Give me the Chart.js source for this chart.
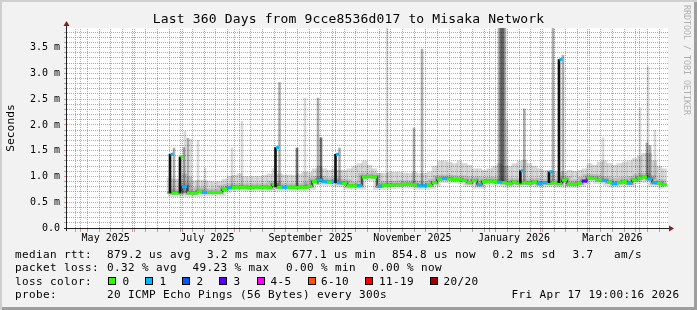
<!DOCTYPE html>
<html>
<head>
<meta charset="utf-8">
<script src="https://cdn.jsdelivr.net/npm/chart.js@4.4.1/dist/chart.umd.min.js"></script>
<style>
  body { margin: 0; background: #fff; }
  #graph {
    position: relative; width: 697px; height: 310px; background: #f2f2f2;
    box-shadow: inset 2px 2px 0 #cfcfcf, inset -3px -3px 0 #9e9e9e;
    font-family: "DejaVu Sans Mono", monospace; color: #000;
  }
  #graph canvas { position: absolute; left: 0; top: 0; }
  #title {
    position: absolute; left: 0; top: 11px; width: 697px; text-align: center;
    font-size: 13px; letter-spacing: 0.16px; line-height: 16px; white-space: pre;
  }
  #mark {
    position: absolute; left: 682px; top: 5px; writing-mode: vertical-rl;
    font-size: 8.3px; line-height: 9px; color: #b0b0b0; white-space: pre;
  }
  .t { position: absolute; white-space: pre; font-size: 11px; letter-spacing: 0.38px; line-height: 13px; }
  .box { position: absolute; top: 277px; width: 6px; height: 6px; border: 1px solid #000; }
</style>
</head>
<body>
<div id="graph">
  <canvas id="chart" width="697" height="310"></canvas>
  <div id="title">Last 360 Days from 9cce8536d017 to Misaka Network</div>
  <div id="mark">RRDTOOL / TOBI OETIKER</div>
  <div id="legend"></div>
</div>
<script>
// time axis: days since Apr 22 2025 19:00 (graph start), 360 days shown
const monthDays = [8.21, 39.21, 69.21, 100.21, 131.21, 161.21, 192.21, 222.21, 253.21, 284.21, 312.21, 343.21];
const weekDays = [5.21, 12.21, 19.21, 26.21, 33.21, 40.21, 47.21, 54.21, 61.21, 68.21, 75.21, 82.21,
  89.21, 96.21, 103.21, 110.21, 117.21, 124.21, 131.21, 138.21, 145.21, 152.21, 159.21, 166.21,
  173.21, 180.21, 187.21, 194.21, 201.21, 208.21, 215.21, 222.21, 229.21, 236.21, 243.21, 250.21,
  257.21, 264.21, 271.21, 278.21, 285.21, 292.21, 299.21, 306.21, 313.21, 320.21, 327.21, 334.21,
  341.21, 348.21, 355.21];
const xLabelDays = [23.2, 84.2, 146.2, 207.2, 268.2, 327.2];
const xLabels = ['May 2025', 'July 2025', 'September 2025', 'November 2025', 'January 2026', 'March 2026'];

const yTickValues = [0, 0.5, 1, 1.5, 2, 2.5, 3, 3.5];
const yTickLabels = ['0.0', '0.5 m', '1.0 m', '1.5 m', '2.0 m', '2.5 m', '3.0 m', '3.5 m'];

// median rtt (ms) in 3-day bins, first bin starts at day 60
const median = [
  0.69, 0.68, 0.68, 0.80, 0.68, 0.68, 0.71, 0.69, 0.69, 0.69,
  0.69, 0.75, 0.78, 0.79, 0.79, 0.79, 0.78, 0.79, 0.79, 0.79,
  0.78, 0.84, 0.79, 0.79, 0.79, 0.79, 0.79, 0.79, 0.81, 0.90,
  0.93, 0.90, 0.89, 0.90, 0.88, 0.87, 0.82, 0.82, 0.82, 0.99,
  1.00, 0.99, 0.81, 0.83, 0.83, 0.84, 0.84, 0.85, 0.85, 0.84,
  0.82, 0.82, 0.83, 0.88, 0.95, 0.96, 0.95, 0.94, 0.94, 0.92,
  0.88, 0.92, 0.84, 0.90, 0.91, 0.90, 0.89, 0.88, 0.86, 0.89,
  0.87, 0.88, 0.87, 0.89, 0.86, 0.88, 0.87, 0.88, 0.86, 0.93,
  0.85, 0.85, 0.87, 0.91, 0.97, 0.96, 0.93, 0.92, 0.89, 0.86,
  0.88, 0.90, 0.87, 0.93, 0.97, 0.99, 0.95, 0.88, 0.87, 0.84
];
// upper edge of the light smoke per bin (ms)
const smokeHi = [
  0.97, 0.95, 0.95, 1.05, 0.99, 0.92, 0.93, 0.92, 0.91, 0.90,
  0.90, 0.95, 1.00, 1.02, 1.05, 1.00, 1.00, 1.00, 1.00, 1.02,
  1.05, 1.15, 1.05, 1.03, 1.03, 1.02, 1.05, 1.08, 1.08, 1.15,
  1.20, 1.15, 1.12, 1.15, 1.12, 1.12, 1.15, 1.20, 1.25, 1.30,
  1.22, 1.15, 1.06, 1.06, 1.08, 1.08, 1.08, 1.07, 1.06, 1.08,
  1.06, 1.06, 1.08, 1.20, 1.30, 1.30, 1.28, 1.25, 1.30, 1.25,
  1.22, 1.15, 1.15, 1.12, 1.15, 1.20, 1.25, 1.20, 1.20, 1.25,
  1.30, 1.32, 1.25, 1.20, 1.15, 1.12, 1.12, 1.10, 1.08, 1.10,
  1.12, 1.10, 1.12, 1.15, 1.25, 1.22, 1.28, 1.30, 1.25, 1.22,
  1.25, 1.28, 1.30, 1.35, 1.40, 1.45, 1.45, 1.30, 1.20, 1.15
];
// loss class per bin (index into lossColors)
const lossClass = [
  0, 0, 0, 1, 0, 0, 0, 1, 0, 0,
  0, 0, 1, 0, 0, 0, 0, 0, 0, 0,
  0, 0, 0, 1, 0, 0, 0, 0, 0, 0,
  1, 1, 0, 1, 1, 0, 0, 0, 1, 0,
  0, 0, 1, 0, 0, 0, 0, 0, 0, 0,
  1, 1, 0, 0, 0, 1, 0, 0, 0, 0,
  0, 0, 1, 0, 0, 0, 1, 0, 0, 0,
  0, 0, 0, 0, 1, 1, 0, 0, 0, 0,
  0, 0, 0, 3, 0, 0, 0, 1, 0, 1,
  0, 0, 1, 0, 0, 0, 1, 1, 0, 0
];

// short smoke spikes (single samples)
const spikeDays = [63.0, 69.0, 69.6, 71.4, 73.2, 77.4, 81.6, 97.8, 103.8, 126.3, 136.8, 141.6, 149.4, 151.2, 162.3,
  190.8, 207.0, 211.8, 258.0, 259.2, 260.4, 261.6, 262.8, 273.2, 290.4, 296.4, 320.4, 342.6, 346.8, 347.4, 348.6, 351.6];
const spikeBase = [0.68, 0.68, 0.68, 0.68, 0.68, 0.68, 0.69, 0.78, 0.79, 0.80, 0.79, 0.79, 0.85, 0.90, 0.88,
  0.82, 0.85, 0.84, 0.88, 0.88, 0.88, 0.88, 0.88, 0.87, 0.88, 0.88, 0.93, 0.90, 0.97, 0.97, 0.97, 0.95];
const spikeTop = [1.55, 1.56, 1.88, 1.74, 1.72, 1.70, 1.16, 1.55, 2.07, 2.82, 1.55, 2.52, 2.52, 1.75, 1.55,
  3.95, 1.94, 3.47, 3.95, 3.95, 3.95, 3.95, 2.10, 2.31, 3.95, 3.35, 1.75, 2.33, 1.65, 3.13, 1.60, 1.90];
const spikeShade = [1, 1, 0, 1, 0, 0, 0, 0, 0, 1, 2, 0, 1, 2, 1,
  0, 1, 1, 1, 2, 2, 1, 0, 1, 1, 1, 0, 0, 1, 0, 1, 0];

// median spikes
const medSpikeDays = [63.0, 69.0, 126.3, 162.3, 273.2, 290.4, 296.4];
const medSpikeBase = [0.68, 0.68, 0.80, 0.88, 0.87, 0.88, 0.88];
const medSpikeTop = [1.43, 1.38, 1.56, 1.43, 1.11, 1.09, 3.27];
const medSpikeLoss = [1, 0, 1, 1, 1, 1, 1];

const lossColors = ['#26ff00', '#00b8ff', '#0059ff', '#5e00ff', '#ff00ff', '#ff5500', '#ff0000', '#a10000'];
const lossLabels = ['0', '1', '2', '3', '4-5', '6-10', '11-19', '20/20'];
const shadeColors = ['rgba(0,0,0,0.15)', 'rgba(0,0,0,0.32)', 'rgba(0,0,0,0.55)'];

const FONT = 'DejaVu Sans Mono';
// rrdtool default grid / major grid colours
const GRID = 'rgba(143,143,143,0.75)';
const MGRID = 'rgba(222,79,79,0.6)';

// ---- legend text under the graph ----
const legend = document.querySelector('#legend');
function addText(txt, x, y) {
  const el = document.createElement('div');
  el.className = 't';
  el.style.left = x + 'px';
  el.style.top = y + 'px';
  el.textContent = txt;
  legend.appendChild(el);
}
addText('median rtt:', 15, 248);
addText('879.2 us avg', 107, 248);
addText('3.2 ms max', 207, 248);
addText('677.1 us min', 292, 248);
addText('854.8 us now', 392, 248);
addText('0.2 ms sd', 492.5, 248);
addText('3.7', 572.5, 248);
addText('am/s', 614, 248);
addText('packet loss:', 15, 261.4);
addText('0.32 % avg', 107, 261.4);
addText('49.23 % max', 192.5, 261.4);
addText('0.00 % min', 286, 261.4);
addText('0.00 % now', 372, 261.4);
addText('loss color:', 15, 274.7);
const boxX = [108, 145.3, 182.3, 219.3, 256.5, 307.5, 365.3, 430.2];
const boxLabelX = [122.5, 159.5, 196.5, 233.5, 270.5, 321, 379, 443.5];
lossLabels.forEach((lbl, i) => {
  const b = document.createElement('div');
  b.className = 'box';
  b.style.left = boxX[i] + 'px';
  b.style.background = lossColors[i];
  legend.appendChild(b);
  addText(lbl, boxLabelX[i], 274.7);
});
addText('probe:', 15, 288);
addText('20 ICMP Echo Pings (56 Bytes) every 300s', 107, 288);
addText('Fri Apr 17 19:00:16 2026', 511.5, 288);

// ---- chart ----
const binDays = median.map((_, i) => 61.5 + 3 * i);
const medianPts = binDays.map((d, i) => ({ x: d, y: median[i] }));

const yGrid = [];
for (let i = 0; i <= 38; i++) yGrid.push(i / 10);
const xGrid = weekDays.concat(monthDays, xLabelDays).sort((a, b) => a - b);

const canvasBack = {
  id: 'canvasBack',
  beforeDraw(chart) {
    const { ctx, chartArea: a } = chart;
    ctx.save();
    ctx.fillStyle = '#fff';
    ctx.fillRect(a.left, a.top, a.right - a.left + 1, a.bottom - a.top);
    ctx.restore();
  }
};

// rrdtool style dotted grid (1 on / 1 off) + small ticks outside the axes
const dotGrid = {
  id: 'dotGrid',
  beforeDatasetsDraw(chart) {
    const { ctx, chartArea: a } = chart;
    const x = chart.scales.x, y = chart.scales.y;
    ctx.save();
    const hLine = (v, color) => {
      const py = Math.floor(y.getPixelForValue(v));
      ctx.fillStyle = color;
      for (let px = a.left; px < a.right + 1; px += 2) ctx.fillRect(px, py, 1, 1);
      ctx.fillRect(a.left - 3, py, 3, 1);
    };
    const vLine = (d, color) => {
      const px = Math.floor(x.getPixelForValue(d));
      ctx.fillStyle = color;
      for (let py = a.bottom - 1; py >= a.top; py -= 2) ctx.fillRect(px, py, 1, 1);
      ctx.fillRect(px, a.bottom + 1, 1, 3);
    };
    yGrid.filter(v => !yTickValues.includes(v)).forEach(v => hLine(v, GRID));
    weekDays.filter(d => !monthDays.includes(d)).forEach(d => vLine(d, GRID));
    yTickValues.forEach(v => hLine(v, MGRID));
    monthDays.forEach(d => vLine(d, MGRID));
    ctx.restore();
  }
};

const axes = {
  id: 'axes',
  afterDatasetsDraw(chart) {
    const { ctx, chartArea: a } = chart;
    ctx.save();
    ctx.strokeStyle = '#1f1f1f';
    ctx.lineWidth = 1;
    ctx.beginPath();
    ctx.moveTo(a.left - 3, a.bottom + 0.5);
    ctx.lineTo(a.right + 3, a.bottom + 0.5);
    ctx.moveTo(a.left - 0.5, a.bottom + 3);
    ctx.lineTo(a.left - 0.5, a.top - 3);
    ctx.stroke();
    ctx.fillStyle = '#801f1f';
    ctx.beginPath();
    ctx.moveTo(a.right + 7, a.bottom + 0.5);
    ctx.lineTo(a.right + 2, a.bottom - 2.5);
    ctx.lineTo(a.right + 2, a.bottom + 3.5);
    ctx.fill();
    ctx.beginPath();
    ctx.moveTo(a.left - 0.5, a.top - 7);
    ctx.lineTo(a.left - 3.5, a.top - 2);
    ctx.lineTo(a.left + 2.5, a.top - 2);
    ctx.fill();
    ctx.restore();
  }
};

const hiddenX = { type: 'linear', min: 0, max: 360, display: false, offset: false };

new Chart(document.querySelector('#chart'), {
  type: 'line',
  data: {
    datasets: [
      {
        type: 'line', xAxisID: 'xm', data: medSpikeDays.map((d, i) => ({ x: d, y: medSpikeTop[i] })),
        showLine: false, pointStyle: 'line', pointRadius: 1.5, pointBorderWidth: 3,
        pointBorderColor: medSpikeLoss.map(l => lossColors[l]), order: 0
      },
      {
        type: 'bar', xAxisID: 'xm', data: medSpikeDays.map((d, i) => ({ x: d, y: [medSpikeBase[i], medSpikeTop[i]] })),
        backgroundColor: '#111', barThickness: 2, order: 1
      },
      {
        type: 'line', xAxisID: 'x', data: medianPts, stepped: 'middle',
        borderColor: '#111', borderWidth: 1,
        pointStyle: 'line', pointRadius: 2.5, pointBorderWidth: 3,
        pointBorderColor: lossClass.map(c => lossColors[c]), order: 2
      },
      {
        type: 'line', xAxisID: 'x', data: medianPts, stepped: 'middle',
        borderColor: 'rgba(0,0,0,0.25)', borderWidth: 3.5, pointRadius: 0, order: 3
      },
      {
        type: 'line', xAxisID: 'x', data: medianPts, stepped: 'middle',
        borderColor: 'rgba(0,0,0,0.12)', borderWidth: 8, pointRadius: 0, order: 4
      },
      {
        type: 'bar', xAxisID: 'xs', data: spikeDays.map((d, i) => ({ x: d, y: [spikeBase[i], spikeTop[i]] })),
        backgroundColor: spikeShade.map(s => shadeColors[s]), barThickness: 2, order: 5
      },
      {
        type: 'bar', xAxisID: 'x', data: binDays.map((d, i) => ({ x: d, y: [median[i], smokeHi[i]] })),
        backgroundColor: shadeColors[0], barThickness: 5, order: 6
      }
    ]
  },
  options: {
    responsive: false,
    animation: false,
    events: [],
    layout: { padding: { left: 0, right: 30, top: 28, bottom: 62 } },
    plugins: { legend: { display: false }, tooltip: { enabled: false }, title: { display: false } },
    scales: {
      x: {
        type: 'linear', min: 0, max: 360, offset: false,
        afterBuildTicks: s => { s.ticks = xGrid.map(v => ({ value: v })); },
        afterFit: s => { s.height = 20; },
        ticks: {
          autoSkip: false, maxRotation: 0, minRotation: 0, padding: 1,
          font: { family: FONT, size: 10 }, color: '#000',
          callback: v => { const i = xLabelDays.indexOf(v); return i >= 0 ? xLabels[i] : ''; }
        },
        grid: { drawOnChartArea: false, tickLength: 3, tickColor: 'rgba(0,0,0,0)', offset: false },
        border: { display: false }
      },
      xs: hiddenX,
      xm: hiddenX,
      y: {
        type: 'linear', min: 0, max: 3.88,
        afterBuildTicks: s => { s.ticks = yGrid.map(v => ({ value: v })); },
        afterFit: s => { s.width = 67; },
        ticks: {
          autoSkip: false, padding: 4, font: { family: FONT, size: 10 }, color: '#000',
          callback: v => { const i = yTickValues.indexOf(v); return i >= 0 ? yTickLabels[i] : ''; }
        },
        grid: { drawOnChartArea: false, tickLength: 3, tickColor: 'rgba(0,0,0,0)' },
        border: { display: false },
        title: {
          display: true, text: 'Seconds', color: '#000',
          font: { family: FONT, size: 11.3 }, padding: { top: 4, bottom: 0 }
        }
      }
    }
  },
  plugins: [canvasBack, dotGrid, axes]
});
</script>
</body>
</html>
